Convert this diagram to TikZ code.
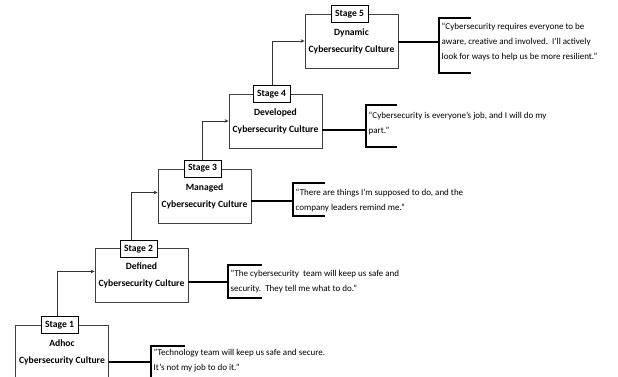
\documentclass[tikz,border=0pt]{standalone}
\usepackage{fontspec}
\setmainfont{Carlito}
\usetikzlibrary{arrows.meta}
\begin{document}
\begin{tikzpicture}[x=1pt,y=-1pt,
  stagebox/.style={draw=black!75, line width=0.8pt, minimum width=93pt, minimum height=54pt, inner sep=0pt,
    align=center, font=\fontsize{9.6}{17}\selectfont\bfseries},
  stagelabel/.style={draw=black, fill=white, line width=1pt, minimum width=37pt, minimum height=17pt, inner sep=0pt,
    font=\fontsize{9.6}{11}\selectfont\bfseries},
  arr/.style={draw=black!80, line width=0.8pt, -{Stealth[length=4pt,width=3.5pt]}},
  conn/.style={draw=black, line width=1.8pt},
  brk/.style={draw=black, line width=2pt},
  quote/.style={anchor=west, align=left, inner sep=1.5pt, font=\fontsize{9}{15}\selectfont}]
\useasboundingbox (0,0) rectangle (618,376);
\clip (0,0) rectangle (618,376);

% boxes
\node[stagebox] (B1) at (62,352) {Adhoc\\Cybersecurity Culture};
\node[stagebox] (B2) at (141.5,275.5) {Defined\\Cybersecurity Culture};
\node[stagebox] (B3) at (204.5,196) {Managed\\Cybersecurity Culture};
\node[stagebox] (B4) at (275.5,121) {Developed\\Cybersecurity Culture};
\node[stagebox] (B5) at (351.5,41) {Dynamic\\Cybersecurity Culture};

% stage labels
\node[stagelabel] (L1) at (59.5,325) {Stage 1};
\node[stagelabel] (L2) at (138.5,249) {Stage 2};
\node[stagelabel] (L3) at (202.5,168.5) {Stage 3};
\node[stagelabel] (L4) at (271.5,94) {Stage 4};
\node[stagelabel] (L5) at (349.5,14) {Stage 5};

% step arrows
\draw[arr] ([xshift=-2pt]L1.north) |- ([yshift=4pt]B2.west);
\draw[arr] ([xshift=-7.5pt]L2.north) |- ([yshift=3.5pt]B3.west);
\draw[arr] (L3.north) |- (B4.west);
\draw[arr] ([xshift=0.8pt]L4.north) |- (B5.west);

% bracket coordinates
\coordinate (q1) at (151,362);
\coordinate (q2) at (228,282);
\coordinate (q3) at (293,201);
\coordinate (q4) at (366,130);
\coordinate (q5) at (439,42);

% connectors
\draw[conn] (B1.east |- q1) -- (q1);
\draw[conn] (B2.east |- q2) -- (q2);
\draw[conn] (B3.east |- q3) -- (q3);
\draw[conn] (B4.east |- q4) -- (q4);
\draw[conn] (B5.east |- q5) -- (q5);

% brackets
\draw[brk] (185,346) -- (151,346) -- (151,382);
\draw[brk] (262,265) -- (228,265) -- (228,298) -- (262,298);
\draw[brk] (325,183) -- (293,183) -- (293,216) -- (325,216);
\draw[brk] (397,105) -- (366,105) -- (366,147) -- (397,147);
\draw[brk] (471,18) -- (439,18) -- (439,73) -- (471,73);

% quotes
\node[quote] (T1) at (152,361) {"Technology team will keep us safe and secure.\\It’s not my job to do it.”};
\node[quote] (T2) at (229,282) {"The cybersecurity\ \ team will keep us safe and\\security.\ \ They tell me what to do.”};
\node[quote] (T3) at (294,200.5) {“There are things I’m supposed to do, and the\\company leaders remind me.”};
\node[quote] (T4) at (367,123.5) {“Cybersecurity is everyone’s job, and I will do my\\part.”};
\node[quote] (T5) at (440,42) {“Cybersecurity requires everyone to be\\aware, creative and involved.\ \ I’ll actively\\look for ways to help us be more resilient.”};
\end{tikzpicture}
\end{document}
